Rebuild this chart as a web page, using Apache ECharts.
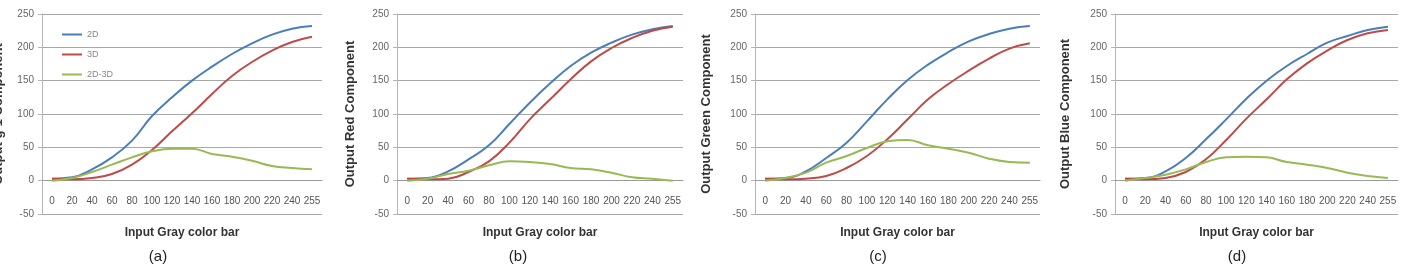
<!DOCTYPE html>
<html>
<head>
<meta charset="utf-8">
<script src="https://cdn.jsdelivr.net/npm/echarts@6/dist/echarts.min.js"></script>
<style>
html, body { margin: 0; padding: 0; background: #ffffff; }
#main { width: 1406px; height: 269px; }
</style>
</head>
<body>
<div id="main"></div>
<script>
// 输入灰度条
var grayBar = ['0', '20', '40', '60', '80', '100', '120', '140', '160', '180', '200', '220', '240', '255'];
var yTicks = [-50, 0, 50, 100, 150, 200, 250];
var seriesNames = ['2D', '3D', '2D-3D'];
var panelTitles = ['Output g-1 Component', 'Output Red Component', 'Output Green Component', 'Output Blue Component'];
var captions = ['(a)', '(b)', '(c)', '(d)'];

// (a)
var a2D = [3, 5, 17, 35, 60, 97, 125, 150, 171, 190, 206, 219, 228, 232];
var a3D = [3, 2, 4, 10, 24, 46, 74, 101, 130, 157, 178, 195, 208, 216];
var aDiff = [0, 4, 13, 24, 35, 44, 48, 48, 40, 36, 30, 22, 19, 17];
// (b)
var b2D = [3, 4, 14, 32, 53, 85, 117, 146, 172, 192, 207, 219, 227, 232];
var b3D = [3, 2, 3, 13, 29, 57, 92, 122, 152, 179, 199, 214, 225, 231];
var bDiff = [0, 3, 10, 15, 23, 29, 28, 25, 19, 17, 12, 5, 3, 0];
// (c)
var c2D = [3, 4, 14, 34, 57, 89, 122, 151, 174, 193, 209, 220, 228, 232];
var c3D = [3, 2, 3, 7, 19, 37, 62, 92, 122, 145, 165, 183, 198, 206];
var cDiff = [0, 4, 12, 27, 37, 49, 59, 61, 53, 48, 42, 33, 28, 27];
// (d)
var d2D = [3, 4, 14, 34, 62, 92, 123, 150, 172, 190, 207, 217, 226, 231];
var d3D = [3, 2, 4, 13, 32, 61, 93, 122, 152, 176, 195, 211, 221, 226];
var dDiff = [0, 4, 9, 17, 28, 35, 36, 35, 28, 24, 19, 12, 7, 4];

var panels = [
	[a2D, a3D, aDiff],
	[b2D, b3D, bDiff],
	[c2D, c3D, cDiff],
	[d2D, d3D, dDiff]
];

var lineColors = ['#4a7ebb', '#be4b48', '#98b954'];
var fontFamily = '"Liberation Sans", Arial, sans-serif';

// 各图的绘图区位置
var gridBoxes = [
	{ left: 42, top: 14, width: 280, height: 200 },
	{ left: 397, top: 14, width: 286, height: 200 },
	{ left: 755, top: 14, width: 285, height: 200 },
	{ left: 1115, top: 14, width: 283, height: 200 }
];
var yNameGaps = [37, 40, 42, 43];
var captionX = [158, 518, 878, 1237];

var grids = [], xAxes = [], yAxes = [], series = [], graphics = [];
for (var i = 0; i < panels.length; i++) {
	var box = gridBoxes[i];
	grids.push({
		left : box.left,
		top : box.top,
		width : box.width,
		height : box.height,
		outerBoundsMode : 'none'
	});
	// 横轴放在 0 刻度处 (Excel 风格)
	var zeroOffset = -box.height * (0 - yTicks[0]) / (yTicks[yTicks.length - 1] - yTicks[0]);
	xAxes.push({
		gridIndex : i,
		type : 'category',
		data : grayBar,
		boundaryGap : true,
		offset : zeroOffset,
		name : 'Input Gray color bar',
		nameLocation : 'middle',
		nameGap : 46,
		nameTextStyle : {
			fontFamily : fontFamily,
			fontSize : 12,
			fontWeight : 'bold',
			color : '#333'
		},
		axisLine : {
			onZero : false,
			lineStyle : { color : '#9a9a9a', width : 1 }
		},
		axisTick : { show : false },
		axisLabel : {
			interval : 0,
			margin : 16,
			fontFamily : fontFamily,
			fontSize : 10,
			color : '#555'
		},
		splitLine : { show : false }
	});
	yAxes.push({
		gridIndex : i,
		type : 'value',
		min : yTicks[0],
		max : yTicks[yTicks.length - 1],
		interval : 50,
		name : panelTitles[i],
		nameLocation : 'middle',
		nameRotate : 90,
		nameGap : yNameGaps[i],
		nameTextStyle : {
			fontFamily : fontFamily,
			fontSize : 13,
			fontWeight : 'bold',
			color : '#333'
		},
		axisLine : {
			show : true,
			lineStyle : { color : '#b5b5b5' }
		},
		axisTick : {
			show : true,
			length : 4,
			lineStyle : { color : '#b5b5b5' }
		},
		axisLabel : {
			margin : 8,
			fontFamily : fontFamily,
			fontSize : 10,
			color : '#666'
		},
		splitLine : {
			lineStyle : { color : '#a8a8a8', width : 1 }
		}
	});
	for (var s = 0; s < 3; s++) {
		series.push({
			name : seriesNames[s],
			type : 'line',
			xAxisIndex : i,
			yAxisIndex : i,
			smooth : 0.45,
			symbol : 'none',
			lineStyle : { color : lineColors[s], width : 2 },
			itemStyle : { color : lineColors[s] },
			data : panels[i][s]
		});
	}
	graphics.push({
		type : 'text',
		x : captionX[i],
		y : 257,
		style : {
			text : captions[i],
			font : '15px ' + fontFamily,
			fill : '#222',
			textAlign : 'center',
			textVerticalAlign : 'middle'
		}
	});
}

var myChart = echarts.init(document.getElementById('main'));
var option = {
	backgroundColor : '#ffffff',
	animation : false,
	legend : {
		orient : 'vertical',
		left : 57,
		top : 25,
		icon : 'rect',
		itemWidth : 20,
		itemHeight : 2,
		itemGap : 11,
		data : seriesNames,
		textStyle : {
			fontFamily : fontFamily,
			fontSize : 9,
			color : '#888'
		}
	},
	grid : grids,
	xAxis : xAxes,
	yAxis : yAxes,
	series : series,
	graphic : graphics
};
myChart.setOption(option);
</script>
</body>
</html>
